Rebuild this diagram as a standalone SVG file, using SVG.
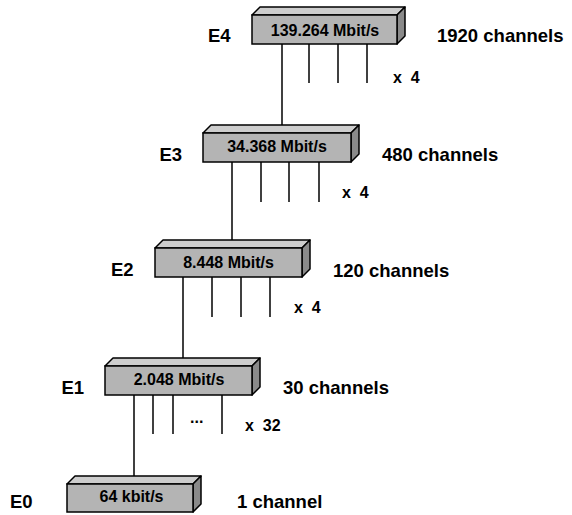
<svg xmlns="http://www.w3.org/2000/svg" width="572" height="515" viewBox="0 0 572 515">
<style>
.front{fill:#b4b4b4;stroke:#000;stroke-width:1.5}
.top{fill:#cdcdcd;stroke:#000;stroke-width:1.5;stroke-linejoin:round}
.side{fill:#8a8a8a;stroke:#000;stroke-width:1.5;stroke-linejoin:round}
.rate{font-family:"Liberation Sans",Arial,sans-serif;font-weight:bold;font-size:16px;text-anchor:middle;fill:#000}
.lbl{font-family:"Liberation Sans",Arial,sans-serif;font-weight:bold;font-size:18.5px;fill:#000}
.mul{font-family:"Liberation Sans",Arial,sans-serif;font-weight:bold;font-size:16px;fill:#000}
.ln{stroke:#000;stroke-width:1.5;fill:none}
</style>
<rect width="572" height="515" fill="#fff"/>
<g id="connectors">
<line class="ln" x1="282" y1="44" x2="282" y2="125"/>
<line class="ln" x1="309" y1="44" x2="309" y2="83"/>
<line class="ln" x1="338" y1="44" x2="338" y2="83"/>
<line class="ln" x1="367" y1="44" x2="367" y2="83"/>
<line class="ln" x1="232" y1="162" x2="232" y2="240"/>
<line class="ln" x1="261" y1="162" x2="261" y2="202"/>
<line class="ln" x1="289" y1="162" x2="289" y2="202"/>
<line class="ln" x1="319" y1="162" x2="319" y2="202"/>
<line class="ln" x1="183" y1="277" x2="183" y2="358"/>
<line class="ln" x1="212" y1="277" x2="212" y2="317"/>
<line class="ln" x1="241" y1="277" x2="241" y2="317"/>
<line class="ln" x1="270" y1="277" x2="270" y2="317"/>
<line class="ln" x1="134" y1="395" x2="134" y2="476"/>
<line class="ln" x1="153" y1="395" x2="153" y2="434"/>
<line class="ln" x1="173" y1="395" x2="173" y2="434"/>
<line class="ln" x1="222" y1="395" x2="222" y2="434"/>
</g>
<g id="E4">
<polygon class="top" points="252,15 260,7 405,7 397,15"/>
<polygon class="side" points="397,15 405,7 405,36 397,44"/>
<rect class="front" x="252" y="15" width="145" height="29"/>
<text class="rate" x="325" y="36">139.264 Mbit/s</text>
<text class="lbl" x="208" y="42">E4</text>
<text class="lbl" x="437" y="42">1920 channels</text>
<text class="mul" x="393" y="83" xml:space="preserve">x  4</text>
</g>
<g id="E3">
<polygon class="top" points="203,133 211,125 359,125 351,133"/>
<polygon class="side" points="351,133 359,125 359,154 351,162"/>
<rect class="front" x="203" y="133" width="148" height="29"/>
<text class="rate" x="277" y="152">34.368 Mbit/s</text>
<text class="lbl" x="159.5" y="160.5">E3</text>
<text class="lbl" x="382" y="161">480 channels</text>
<text class="mul" x="342" y="198" xml:space="preserve">x  4</text>
</g>
<g id="E2">
<polygon class="top" points="155,248 163,240 310,240 302,248"/>
<polygon class="side" points="302,248 310,240 310,269 302,277"/>
<rect class="front" x="155" y="248" width="147" height="29"/>
<text class="rate" x="228.5" y="268">8.448 Mbit/s</text>
<text class="lbl" x="111" y="275.5">E2</text>
<text class="lbl" x="333" y="277">120 channels</text>
<text class="mul" x="294" y="313" xml:space="preserve">x  4</text>
</g>
<g id="E1">
<polygon class="top" points="105,366 113,358 260,358 252,366"/>
<polygon class="side" points="252,366 260,358 260,387 252,395"/>
<rect class="front" x="105" y="366" width="147" height="29"/>
<text class="rate" x="179" y="385">2.048 Mbit/s</text>
<text class="lbl" x="61.5" y="394">E1</text>
<text class="lbl" x="283" y="394">30 channels</text>
<text class="mul" x="190" y="423">...</text>
<text class="mul" x="245" y="431" xml:space="preserve">x  32</text>
</g>
<g id="E0">
<polygon class="top" points="67,484 75,476 201,476 193,484"/>
<polygon class="side" points="193,484 201,476 201,504 193,512"/>
<rect class="front" x="67" y="484" width="126" height="28"/>
<text class="rate" x="131.5" y="502">64 kbit/s</text>
<text class="lbl" x="10" y="508">E0</text>
<text class="lbl" x="237" y="508">1 channel</text>
</g>
</svg>
